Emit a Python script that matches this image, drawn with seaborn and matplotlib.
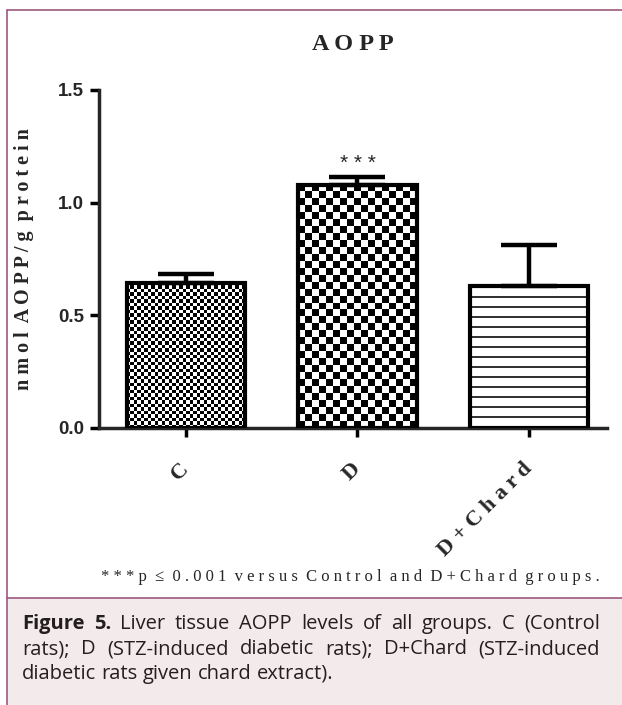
import numpy as np
import matplotlib
matplotlib.use("Agg")
import matplotlib.pyplot as plt
from matplotlib.lines import Line2D
from matplotlib.patches import Rectangle
import seaborn as sns

groups = ["C", "D", "D+Chard"]
means = [0.645, 1.08, 0.63]
sems = [0.04, 0.035, 0.18]
patterns = ["fine", "coarse", "stripes"]
yticks = [0.0, 0.5, 1.0, 1.5]

title = "AOPP"
ylabel_words = ["nmol", "AOPP/g", "protein"]
footnote_words = ["***p", "≤", "0.001", "versus", "Control", "and", "D+Chard", "groups."]
caption_lines = [
    "Liver tissue AOPP levels of all groups. C (Control",
    "rats); D (STZ-induced diabetic rats); D+Chard (STZ-induced",
    "diabetic rats given chard extract).",
]

W, H = 622, 705
SERIF = ["Liberation Serif", "DejaVu Serif"]
SANS = ["Liberation Sans", "DejaVu Sans"]
BORDER = "#9c5a7e"
CAPBG = "#f3ebeb"
CAPTXT = "#231f20"

sns.set_style("ticks")
plt.rcParams["font.family"] = SANS


def spaced(words, gap="  "):
    return gap.join(" ".join(w) for w in words)


def fx(px):
    return px / W


def fy(py):
    return 1 - py / H


fig = plt.figure(figsize=(W / 100, H / 100), dpi=100)

# frame and caption panel
fig.patches.append(Rectangle((fx(7), 0), 1, fy(598), transform=fig.transFigure,
                             facecolor=CAPBG, edgecolor="none", zorder=0))
for xs, ys in [([7, W], [10, 10]), ([7, 7], [10, H]), ([7, W], [598, 598])]:
    fig.lines.append(Line2D([fx(v) for v in xs], [fy(v) for v in ys],
                            transform=fig.transFigure, color=BORDER, lw=1.2))

ax_left, ax_right, ax_top, ax_bot = 99, 607, 90, 428
ax = fig.add_axes([fx(ax_left), fy(ax_bot), fx(ax_right - ax_left), (ax_bot - ax_top) / H])

sns.barplot(x=groups, y=means, ax=ax, color="white", edgecolor="black",
            linewidth=3, width=0.69, errorbar=None, zorder=3)
ax.set_ylim(0, 1.5)
ax.set_xlim(-0.507, 2.455)

bars = list(ax.patches)
centers = [b.get_x() + b.get_width() / 2 for b in bars]
for b in bars:
    b.set_facecolor("none")


def pattern_image(kind, wpx, hpx):
    if kind == "stripes":
        rows = np.arange(int(round(hpx)))
        dark = (rows % 10) < 2
        mask = np.repeat(dark[:, None], 4, axis=1)
        return np.where(mask[..., None], 0.2, 1.0) * np.ones(3)
    cell = 3.5 if kind == "fine" else 7.0
    nx = max(1, int(round(wpx / cell)))
    ny = max(1, int(round(hpx / cell)))
    mask = np.add.outer(np.arange(ny), np.arange(nx)) % 2 == 0
    return np.where(mask[..., None], 0.0, 1.0) * np.ones(3)


for b, kind in zip(bars, patterns):
    x0, w, h = b.get_x(), b.get_width(), b.get_height()
    p0 = ax.transData.transform((x0, 0))
    p1 = ax.transData.transform((x0 + w, h))
    img = pattern_image(kind, p1[0] - p0[0], p1[1] - p0[1])
    im = ax.imshow(img, extent=(x0, x0 + w, 0, h), aspect="auto",
                   interpolation="nearest", zorder=2)
    im.set_clip_path(b)

ax.set_ylim(0, 1.5)
ax.set_xlim(-0.507, 2.455)

ax.errorbar(centers, means, yerr=[np.zeros(len(means)), sems], fmt="none",
            ecolor="black", elinewidth=3.2, capsize=20, capthick=3.2, zorder=4)

ax.annotate("* * *", xy=(centers[1], means[1] + sems[1]), xytext=(0, 3),
            textcoords="offset points", ha="center", va="bottom",
            fontsize=15, family=SANS)

sns.despine(ax=ax)
for s in ["left", "bottom"]:
    ax.spines[s].set_linewidth(2.5)
ax.set_yticks(yticks)
ax.set_yticklabels([f"{v:.1f}" for v in yticks], fontsize=13.5, fontweight="bold",
                   family=SANS)
ax.tick_params(axis="both", length=6.5, width=2.5, pad=4.3, color="black")
ax.set_xticks(range(len(groups)))
ax.set_xticklabels([" ".join(g) for g in groups], rotation=45, ha="right",
                   va="center", rotation_mode="anchor", fontsize=16,
                   fontweight="bold", family=SERIF)
ax.tick_params(axis="x", pad=21)
ax.set_xlabel("")
ax.set_ylabel(spaced(ylabel_words), fontsize=14.5, fontweight="bold",
              family=SERIF)
ax.yaxis.set_label_coords((34 - ax_left) / (ax_right - ax_left), 0.5)

fig.text(fx((ax_left + ax_right) / 2), fy(45), " ".join(title), ha="center",
         va="center", fontsize=17.5, fontweight="bold", family=SERIF)

fig.text(fx(350), fy(577), spaced(footnote_words), ha="center", va="center",
         fontsize=12, family=SERIF)

# caption, justified like the journal layout
renderer = fig.canvas.get_renderer()
cap_fs = 14.5
lx0, lx1 = 22, 600
baselines = [629, 654, 679]
for i, (line, base) in enumerate(zip(caption_lines, baselines)):
    words = line.split(" ")
    items = [(w, "normal") for w in words]
    if i == 0:
        items = [("Figure", "bold"), ("5.", "bold")] + items
    texts = [fig.text(0, fy(base), w, fontsize=cap_fs, fontweight=wt,
                      family=["Open Sans", "DejaVu Sans"], color=CAPTXT,
                      va="baseline", ha="left") for w, wt in items]
    widths = [t.get_window_extent(renderer).width for t in texts]
    if i < len(caption_lines) - 1:
        gap = (lx1 - lx0 - sum(widths)) / (len(texts) - 1)
    else:
        gap = cap_fs * 0.26 * 100 / 72
    x = lx0
    for t, wd in zip(texts, widths):
        t.set_x(fx(x))
        x += wd + gap

fig.savefig("out.png", dpi=100)
